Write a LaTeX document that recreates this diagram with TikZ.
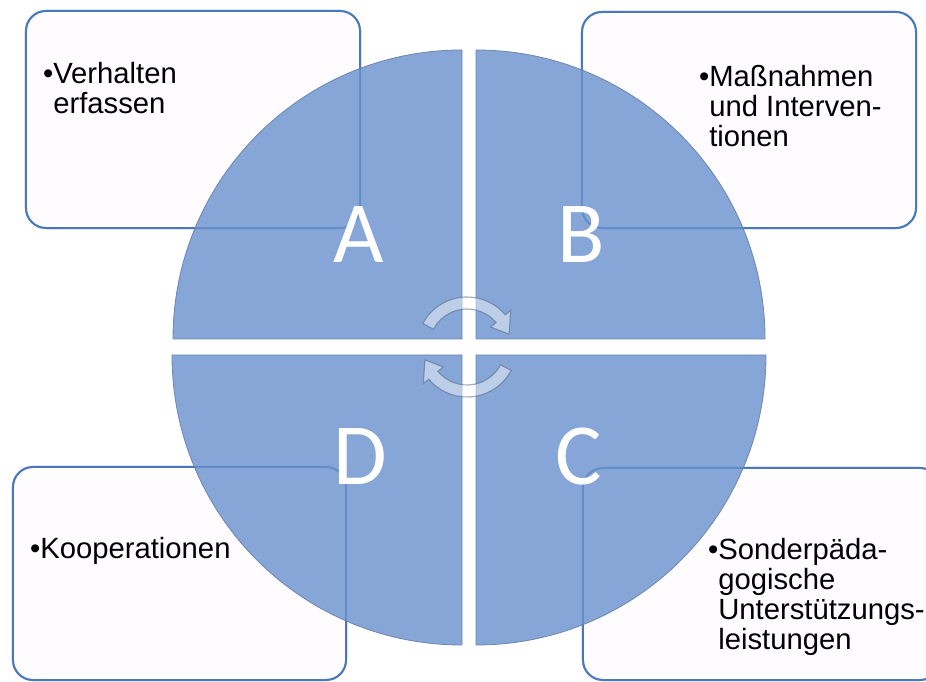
\documentclass[tikz,border=0pt]{standalone}
\usepackage{fontspec}
\setmainfont{Liberation Sans}
\newfontfamily\letterfont{Carlito}
\usetikzlibrary{positioning,calc}

\definecolor{quadblue}{RGB}{133,166,214}
\definecolor{quadedge}{RGB}{112,136,176}
\definecolor{boxblue}{RGB}{74,120,186}
\definecolor{boxfill}{RGB}{254,252,254}

% glassy turning arrow round (mid), turned by #1 degrees
\newcommand{\cyclearrow}[1]{%
  \draw[turn] ([shift={({152+#1}:50)}]mid) arc[start angle={152+#1}, end angle={40+#1}, radius=50]
    -- ([shift={({40+#1}:57)}]mid) -- ([shift={({17+#1}:44)}]mid)
    -- ([shift={({40+#1}:31)}]mid) -- ([shift={({40+#1}:38)}]mid)
    arc[start angle={40+#1}, end angle={152+#1}, radius=38] -- cycle;}

\begin{document}
\begin{tikzpicture}[x=0.025cm, y=0.025cm,
    box/.style={rectangle, rounded corners=0.5cm, draw=boxblue, line width=1.4pt,
      fill=boxfill, outer sep=0pt, inner sep=0pt},
    boxline/.style={draw=boxblue, line width=1.4pt, draw opacity=0.55, rounded corners=0.5cm},
    boxtext/.style={anchor=base west, align=left, inner sep=0pt,
      font=\fontsize{20.8}{21.4}\selectfont},
    quad/.style={fill=quadblue, draw=quadedge, line width=0.6pt},
    letter/.style={text=white, inner sep=0pt, font=\letterfont\fontsize{62}{62}\selectfont},
    turn/.style={fill=white, fill opacity=0.45, draw=quadedge!80!black, line width=0.8pt, draw opacity=0.6}]

    \useasboundingbox (0,0) rectangle (926,682);
    \clip (0,0) rectangle (926,682);
    \fill[white] (0,0) rectangle (926,682);

    % boxes
    \node[box, minimum width=8.35cm, minimum height=5.425cm] (boxA) at (193,562.5) {};
    \node[box, minimum width=8.35cm, minimum height=5.4cm] (boxB) at (749,562) {};
    \node[box, minimum width=8.325cm, minimum height=5.325cm] (boxD) at (179.5,108.5) {};
    \node[box, minimum width=8.925cm, minimum height=5.3cm] (boxC) at (761.5,108) {};

    % quadrants
    \coordinate (cA) at (462,343);
    \coordinate (cB) at (476,343);
    \coordinate (cD) at (462,327);
    \coordinate (cC) at (476,327);
    \draw[quad] (cA) -- ++(-289,0) arc[start angle=180, end angle=90, radius=289] -- cycle;
    \draw[quad] (cB) -- ++(289,0) arc[start angle=0, end angle=90, radius=289] -- cycle;
    \draw[quad] (cD) -- ++(-290,0) arc[start angle=180, end angle=270, radius=290] -- cycle;
    \draw[quad] (cC) -- ++(290,0) arc[start angle=0, end angle=-90, radius=290] -- cycle;

    \foreach \b in {boxA,boxB,boxC,boxD}
      \draw[boxline] (\b.south west) rectangle (\b.north east);

    % letters
    \node[letter] (letA) at (359,447) {A};
    \node[letter] (letB) at (581,447) {B};
    \node[letter] (letC) at (579,225) {C};
    \node[letter] (letD) at (360,225) {D};

    % arrows in the middle
    \coordinate (mid) at (467,335);
    \cyclearrow{0}
    \cyclearrow{180}

    % texts (anchored at the base of the last line)
    \node[boxtext] (txtA) at (53,568) {\llap{\textbullet}Verhalten\\erfassen};
    \node[boxtext] (txtB) at (709,535) {\llap{\textbullet}Maßnahmen\\und Interven-\\tionen};
    \node[boxtext] (txtC) at (718,32) {\llap{\textbullet}Sonderpäda-\\gogische\\Unterstützungs-\\leistungen};
    \node[boxtext] (txtD) at (40,123) {\llap{\textbullet}Kooperationen};
\end{tikzpicture}
\end{document}
